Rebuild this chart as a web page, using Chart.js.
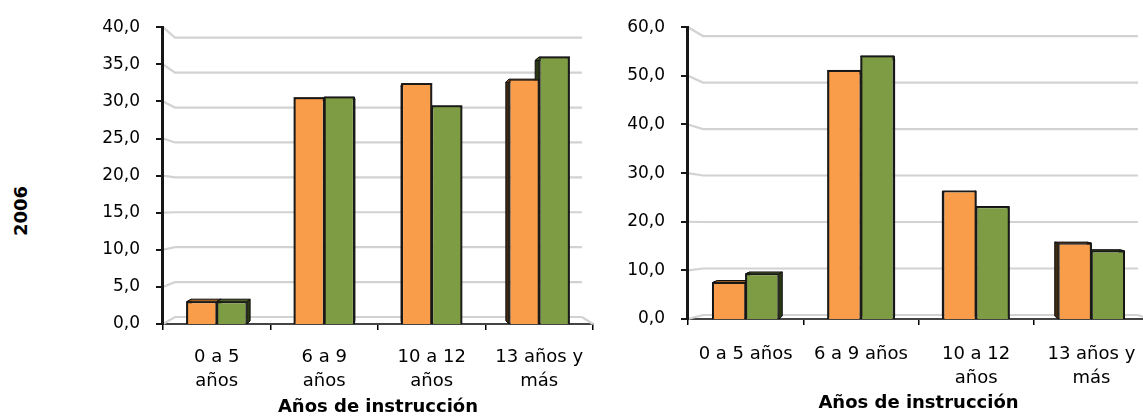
<!DOCTYPE html>
<html>
<head>
<meta charset="utf-8">
<script src="https://cdn.jsdelivr.net/npm/chart.js@4.4.1/dist/chart.umd.min.js"></script>
<style>
  html, body { margin: 0; padding: 0; background: #fff; overflow: hidden; width: 1143px; height: 416px; }
  #wrap { position: relative; width: 1143px; height: 416px; overflow: hidden; }
  #izq { position: absolute; left: 0; top: 0; }
  #der { position: absolute; left: 600px; top: 0; }
  #anio { position: absolute; left: 20px; top: 211px; transform: translate(-50%, -50%) rotate(-90deg);
          font: bold 18px 'DejaVu Sans', sans-serif; color: #000; white-space: nowrap; }
</style>
</head>
<body>
<div id="wrap">
  <div id="anio">2006</div>
  <canvas id="izq" width="600" height="416"></canvas>
  <canvas id="der" width="560" height="416"></canvas>
</div>
<script>
// Categorías del eje X
const categoriasIzq = [['0 a 5', 'años'], ['6 a 9', 'años'], ['10 a 12', 'años'], ['13 años y', 'más']];
const categoriasDer = ['0 a 5 años', '6 a 9 años', ['10 a 12', 'años'], ['13 años y', 'más']];

// Valores (%) por años de instrucción
const izqNaranja = [3.0, 30.5, 32.4, 33.0];
const izqVerde   = [3.0, 30.6, 29.4, 36.0];
const derNaranja = [7.5, 51.1, 26.3, 15.6];
const derVerde   = [9.3, 54.1, 23.1, 14.0];

// Escalas del eje Y
const ejeIzq = { max: 40, paso: 5 };
const ejeDer = { max: 60, paso: 10 };

const tituloX = 'Años de instrucción';

Chart.defaults.font.family = "'DejaVu Sans', sans-serif";
Chart.defaults.color = '#000';

const colores = {
  naranja: { cara: '#F99D4B', techo: '#9c5c22', lado: '#3f2a12' },
  verde:   { cara: '#7E9C44', techo: '#4a5e24', lado: '#2a3815' }
};

// Pared del fondo en perspectiva, volumen de las columnas y eje vertical
const fondo3D = {
  id: 'fondo3D',
  beforeDatasetsDraw(chart, args, o) {
    const { ctx, chartArea: a, scales: { y } } = chart;
    ctx.save();
    ctx.strokeStyle = '#d2d2d2';
    ctx.lineWidth = 2.2;
    const derFondo = a.right - o.dxDer;
    y.ticks.forEach(t => {
      const yf = y.getPixelForValue(t.value);
      const yb = a.bottom + o.dyBase - (a.bottom - yf) * o.k;
      ctx.beginPath();
      ctx.moveTo(a.left, yf);
      ctx.lineTo(a.left + o.dxIzq, yb);
      ctx.lineTo(derFondo, yb);
      ctx.stroke();
    });
    ctx.beginPath();
    ctx.moveTo(derFondo, a.bottom + o.dyBase);
    ctx.lineTo(a.right, a.bottom);
    ctx.stroke();

    // caras laterales y superiores de cada columna
    const vp = [(a.left + a.right) / 2, a.top + o.vpY * (a.bottom - a.top)];
    const f = o.prof;
    const atras = p => [p[0] + (vp[0] - p[0]) * f, p[1] + (vp[1] - p[1]) * f];
    const quad = (pts, fill) => {
      ctx.beginPath();
      ctx.moveTo(pts[0][0], pts[0][1]);
      for (let i = 1; i < pts.length; i++) ctx.lineTo(pts[i][0], pts[i][1]);
      ctx.closePath();
      ctx.fillStyle = fill;
      ctx.fill();
      ctx.strokeStyle = '#111';
      ctx.lineWidth = 1;
      ctx.stroke();
    };
    chart.data.datasets.forEach((ds, i) => {
      const pal = ds.paleta;
      chart.getDatasetMeta(i).data.forEach(bar => {
        const p = bar.getProps(['x', 'y', 'base', 'width'], true);
        const l = p.x - p.width / 2, r = p.x + p.width / 2;
        const F = [[l, p.y], [r, p.y], [r, p.base], [l, p.base]];
        const B = F.map(atras);
        quad([F[1], F[2], B[2], B[1]], pal.lado);
        quad([F[3], F[0], B[0], B[3]], pal.lado);
        quad([F[0], F[1], B[1], B[0]], pal.techo);
      });
    });
    ctx.restore();
  },
  afterDraw(chart) {
    const { ctx, chartArea: a, scales: { y } } = chart;
    const x0 = Math.round(a.left);
    ctx.save();
    ctx.fillStyle = '#161616';
    // marcas de graduación
    y.ticks.forEach(t => {
      const yp = Math.round(y.getPixelForValue(t.value));
      ctx.fillRect(x0 - 7, yp - 1, 7, 2);
    });
    // línea del eje
    ctx.fillRect(x0 - 2, Math.round(a.top) - 1, 3, Math.round(a.bottom - a.top) + 2);
    ctx.restore();
  }
};

function grafico(id, etiquetas, serieA, serieB, eje, d) {
  const fmt = v => Number(v).toFixed(1).replace('.', ',');
  return new Chart(document.getElementById(id), {
    type: 'bar',
    data: {
      labels: etiquetas,
      datasets: [
        { data: serieA, paleta: colores.naranja, backgroundColor: colores.naranja.cara,
          borderColor: '#1a1a1a', borderWidth: 1.5 },
        { data: serieB, paleta: colores.verde, backgroundColor: colores.verde.cara,
          borderColor: '#1a1a1a', borderWidth: 1.5 }
      ]
    },
    options: {
      responsive: false,
      animation: false,
      devicePixelRatio: 1,
      layout: { padding: { left: 0, top: d.top, right: d.right, bottom: 0 } },
      datasets: { bar: { categoryPercentage: d.cat, barPercentage: 1 } },
      plugins: {
        legend: { display: false },
        tooltip: { enabled: false },
        fondo3D: d.pared
      },
      scales: {
        x: {
          grid: { offset: true, drawOnChartArea: false, drawTicks: true, tickLength: 6, color: '#000', lineWidth: 1.5 },
          border: { display: true, color: '#444', width: 2 },
          ticks: { font: { size: 18, lineHeight: d.lh }, padding: d.xPad, maxRotation: 0, autoSkip: false, color: '#000' },
          title: { display: true, text: tituloX, font: { size: 18, weight: 'bold', lineHeight: d.tlh },
                   padding: { top: 0, bottom: d.tPad }, color: '#000' },
          afterFit: s => { s.height = d.xh; }
        },
        y: {
          min: 0, max: eje.max,
          grid: { display: false, drawTicks: true, tickLength: 6 },
          border: { display: false },
          ticks: { stepSize: eje.paso, font: { size: 17 }, padding: 17, color: '#000', callback: fmt },
          afterFit: s => { s.width = d.yw; }
        }
      }
    },
    plugins: [fondo3D]
  });
}

grafico('izq', categoriasIzq, izqNaranja, izqVerde, ejeIzq, {
  top: 19, right: 7, yw: 163, xh: 92, cat: 0.56, lh: 1.3, xPad: 16, tlh: 1.0, tPad: 0,
  pared: { dxIzq: 12, dxDer: 11, dyBase: -7, k: 0.941, vpY: 0.58, prof: 0.025 }
});
grafico('der', categoriasDer, derNaranja, derVerde, ejeDer, {
  top: 23, right: 11, yw: 88, xh: 97, cat: 0.575, lh: 1.35, xPad: 17, tlh: 1.2, tPad: 2,
  pared: { dxIzq: 15, dxDer: 11, dyBase: -4, k: 0.956, vpY: 0.6, prof: 0.025 }
});
</script>
</body>
</html>
